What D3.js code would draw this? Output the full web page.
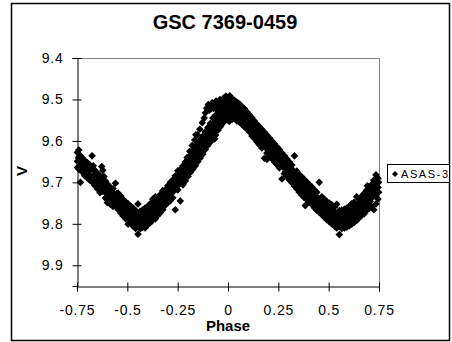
<!DOCTYPE html>
<html>
<head>
<meta charset="utf-8">
<script src="https://cdnjs.cloudflare.com/ajax/libs/d3/7.8.5/d3.min.js"></script>
<style>
	body { margin: 0; background: #fff; }
	text { font-family: Arial, 'Liberation Sans', sans-serif; fill: #000; }
</style>
</head>
<body>
<div class="chart"></div>
<script>

// ASAS-3 V magnitudes against phase
var asas3 = [
	[-0.748,9.628],[-0.748,9.649],[-0.748,9.664],
	[-0.741,9.622],[-0.741,9.641],[-0.741,9.668],
	[-0.733,9.636],[-0.733,9.659],[-0.733,9.700],
	[-0.724,9.641],[-0.724,9.662],[-0.724,9.675],
	[-0.712,9.647],[-0.712,9.671],[-0.712,9.684],
	[-0.699,9.652],[-0.699,9.666],[-0.699,9.689],
	[-0.688,9.657],[-0.688,9.672],[-0.688,9.694],
	[-0.675,9.636],[-0.675,9.668],[-0.675,9.699],
	[-0.661,9.671],[-0.661,9.694],[-0.661,9.708],
	[-0.648,9.678],[-0.648,9.699],[-0.648,9.716],
	[-0.636,9.684],[-0.636,9.708],[-0.636,9.725],
	[-0.622,9.671],[-0.622,9.694],[-0.622,9.722],
	[-0.609,9.697],[-0.609,9.713],[-0.609,9.738],
	[-0.597,9.705],[-0.597,9.728],[-0.597,9.744],
	[-0.584,9.712],[-0.584,9.731],[-0.584,9.753],
	[-0.571,9.715],[-0.571,9.739],[-0.571,9.758],
	[-0.559,9.702],[-0.559,9.735],[-0.559,9.756],
	[-0.546,9.726],[-0.546,9.751],[-0.546,9.766],
	[-0.533,9.733],[-0.533,9.757],[-0.533,9.774],
	[-0.521,9.741],[-0.521,9.762],[-0.521,9.781],
	[-0.508,9.747],[-0.508,9.770],[-0.508,9.788],
	[-0.496,9.752],[-0.496,9.776],[-0.496,9.801],
	[-0.484,9.757],[-0.484,9.780],[-0.484,9.797],
	[-0.471,9.762],[-0.471,9.786],[-0.471,9.806],
	[-0.459,9.768],[-0.459,9.791],[-0.459,9.811],
	[-0.447,9.752],[-0.447,9.793],[-0.447,9.825],
	[-0.436,9.770],[-0.436,9.792],[-0.436,9.812],
	[-0.424,9.766],[-0.424,9.786],[-0.424,9.808],
	[-0.412,9.762],[-0.412,9.789],[-0.412,9.810],
	[-0.399,9.758],[-0.399,9.781],[-0.399,9.803],
	[-0.387,9.752],[-0.387,9.776],[-0.387,9.798],
	[-0.374,9.741],[-0.374,9.769],[-0.374,9.791],
	[-0.361,9.735],[-0.361,9.764],[-0.361,9.788],
	[-0.349,9.742],[-0.349,9.757],[-0.349,9.780],
	[-0.336,9.729],[-0.336,9.750],[-0.336,9.773],
	[-0.324,9.720],[-0.324,9.741],[-0.324,9.766],
	[-0.311,9.718],[-0.311,9.733],[-0.311,9.755],
	[-0.299,9.708],[-0.299,9.727],[-0.299,9.749],
	[-0.286,9.700],[-0.286,9.719],[-0.286,9.744],
	[-0.274,9.694],[-0.274,9.716],[-0.274,9.737],
	[-0.262,9.684],[-0.262,9.709],[-0.262,9.766],
	[-0.249,9.672],[-0.249,9.697],[-0.249,9.718],
	[-0.237,9.669],[-0.237,9.690],[-0.237,9.745],
	[-0.224,9.660],[-0.224,9.684],[-0.224,9.706],
	[-0.212,9.651],[-0.212,9.678],[-0.212,9.697],
	[-0.199,9.644],[-0.199,9.663],[-0.199,9.686],
	[-0.187,9.634],[-0.187,9.657],[-0.187,9.676],
	[-0.174,9.624],[-0.174,9.649],[-0.174,9.668],
	[-0.162,9.615],[-0.162,9.637],[-0.162,9.660],
	[-0.150,9.607],[-0.150,9.631],[-0.150,9.650],
	[-0.138,9.597],[-0.138,9.622],[-0.138,9.641],
	[-0.125,9.588],[-0.125,9.608],[-0.125,9.632],
	[-0.113,9.578],[-0.113,9.602],[-0.113,9.621],
	[-0.100,9.568],[-0.100,9.593],[-0.100,9.611],
	[-0.088,9.558],[-0.088,9.580],[-0.088,9.603],
	[-0.075,9.545],[-0.075,9.574],[-0.075,9.594],
	[-0.062,9.538],[-0.062,9.561],[-0.062,9.586],
	[-0.050,9.528],[-0.050,9.552],[-0.050,9.574],
	[-0.038,9.519],[-0.038,9.545],[-0.038,9.566],
	[-0.025,9.511],[-0.025,9.534],[-0.025,9.557],
	[-0.013,9.503],[-0.013,9.527],[-0.013,9.549],
	[-0.002,9.497],[-0.002,9.519],[-0.002,9.541],
	[0.009,9.491],[0.009,9.515],[0.009,9.537],
	[0.020,9.498],[0.020,9.520],[0.020,9.548],
	[0.032,9.502],[0.032,9.524],[0.032,9.546],
	[0.044,9.506],[0.044,9.531],[0.044,9.552],
	[0.057,9.511],[0.057,9.533],[0.057,9.555],
	[0.069,9.517],[0.069,9.541],[0.069,9.560],
	[0.081,9.522],[0.081,9.546],[0.081,9.566],
	[0.094,9.530],[0.094,9.553],[0.094,9.571],
	[0.106,9.537],[0.106,9.561],[0.106,9.578],
	[0.119,9.544],[0.119,9.567],[0.119,9.588],
	[0.131,9.552],[0.131,9.575],[0.131,9.594],
	[0.143,9.559],[0.143,9.583],[0.143,9.602],
	[0.156,9.566],[0.156,9.590],[0.156,9.609],
	[0.168,9.572],[0.168,9.596],[0.168,9.617],
	[0.181,9.579],[0.181,9.602],[0.181,9.642],
	[0.193,9.586],[0.193,9.608],[0.193,9.629],
	[0.206,9.593],[0.206,9.615],[0.206,9.635],
	[0.218,9.600],[0.218,9.622],[0.218,9.643],
	[0.231,9.607],[0.231,9.630],[0.231,9.651],
	[0.243,9.614],[0.243,9.638],[0.243,9.657],
	[0.255,9.621],[0.255,9.645],[0.255,9.665],
	[0.268,9.629],[0.268,9.652],[0.268,9.692],
	[0.280,9.636],[0.280,9.660],[0.280,9.679],
	[0.292,9.643],[0.292,9.667],[0.292,9.686],
	[0.305,9.651],[0.305,9.675],[0.305,9.694],
	[0.317,9.658],[0.317,9.681],[0.317,9.701],
	[0.330,9.636],[0.330,9.689],[0.330,9.709],
	[0.342,9.673],[0.342,9.697],[0.342,9.716],
	[0.354,9.681],[0.354,9.704],[0.354,9.724],
	[0.367,9.687],[0.367,9.711],[0.367,9.731],
	[0.379,9.693],[0.379,9.716],[0.379,9.737],
	[0.392,9.699],[0.392,9.723],[0.392,9.742],
	[0.404,9.705],[0.404,9.729],[0.404,9.748],
	[0.416,9.711],[0.416,9.735],[0.416,9.753],
	[0.429,9.718],[0.429,9.741],[0.429,9.761],
	[0.441,9.724],[0.441,9.748],[0.441,9.767],
	[0.453,9.700],[0.453,9.753],[0.453,9.772],
	[0.466,9.735],[0.466,9.759],[0.466,9.778],
	[0.478,9.740],[0.478,9.764],[0.478,9.784],
	[0.491,9.746],[0.491,9.770],[0.491,9.790],
	[0.503,9.750],[0.503,9.772],[0.503,9.795],
	[0.515,9.754],[0.515,9.778],[0.515,9.800],
	[0.528,9.760],[0.528,9.783],[0.528,9.805],
	[0.540,9.753],[0.540,9.788],[0.540,9.810],
	[0.553,9.768],[0.553,9.792],[0.553,9.826],
	[0.565,9.767],[0.565,9.791],[0.565,9.812],
	[0.578,9.765],[0.578,9.787],[0.578,9.810],
	[0.590,9.762],[0.590,9.785],[0.590,9.808],
	[0.602,9.758],[0.602,9.782],[0.602,9.805],
	[0.614,9.752],[0.614,9.778],[0.614,9.801],
	[0.626,9.748],[0.626,9.773],[0.626,9.797],
	[0.639,9.735],[0.639,9.768],[0.639,9.792],
	[0.651,9.741],[0.651,9.763],[0.651,9.786],
	[0.663,9.734],[0.663,9.757],[0.663,9.780],
	[0.676,9.727],[0.676,9.750],[0.676,9.776],
	[0.688,9.719],[0.688,9.744],[0.688,9.768],
	[0.700,9.712],[0.700,9.738],[0.700,9.763],
	[0.712,9.706],[0.712,9.731],[0.712,9.758],
	[0.724,9.695],[0.724,9.724],[0.724,9.766],
	[0.735,9.682],[0.735,9.716],[0.735,9.752],
	[0.745,9.690],[0.745,9.712],[0.745,9.740],
	// points sitting between the others
	[-0.742,9.640],[-0.742,9.663],[-0.735,9.635],[-0.735,9.658],
	[-0.727,9.648],[-0.727,9.670],[-0.718,9.653],[-0.718,9.676],
	[-0.706,9.660],[-0.706,9.682],[-0.693,9.658],[-0.693,9.683],
	[-0.682,9.664],[-0.682,9.686],[-0.669,9.660],[-0.669,9.683],
	[-0.655,9.683],[-0.655,9.705],[-0.642,9.690],[-0.642,9.713],
	[-0.630,9.699],[-0.630,9.720],[-0.616,9.686],[-0.616,9.709],
	[-0.603,9.704],[-0.603,9.727],[-0.591,9.717],[-0.591,9.739],
	[-0.578,9.722],[-0.578,9.745],[-0.565,9.728],[-0.565,9.750],
	[-0.553,9.727],[-0.553,9.749],[-0.540,9.742],[-0.540,9.765],
	[-0.527,9.746],[-0.527,9.768],[-0.515,9.753],[-0.515,9.776],
	[-0.502,9.761],[-0.502,9.784],[-0.490,9.765],[-0.490,9.787],
	[-0.478,9.771],[-0.478,9.794],[-0.465,9.777],[-0.465,9.800],
	[-0.453,9.780],[-0.453,9.803],[-0.441,9.781],[-0.441,9.804],
	[-0.430,9.780],[-0.430,9.801],[-0.418,9.773],[-0.418,9.796],
	[-0.406,9.772],[-0.406,9.794],[-0.393,9.766],[-0.393,9.789],
	[-0.381,9.760],[-0.381,9.783],[-0.368,9.751],[-0.368,9.773],
	[-0.355,9.748],[-0.355,9.771],[-0.343,9.742],[-0.343,9.764],
	[-0.330,9.734],[-0.330,9.757],[-0.318,9.723],[-0.318,9.745],
	[-0.305,9.718],[-0.305,9.740],[-0.293,9.711],[-0.293,9.734],
	[-0.280,9.704],[-0.280,9.726],[-0.268,9.698],[-0.268,9.720],
	[-0.256,9.694],[-0.256,9.716],[-0.243,9.682],[-0.243,9.705],
	[-0.231,9.674],[-0.231,9.697],[-0.218,9.666],[-0.218,9.688],
	[-0.206,9.662],[-0.206,9.685],[-0.193,9.648],[-0.193,9.670],
	[-0.181,9.641],[-0.181,9.664],[-0.168,9.631],[-0.168,9.653],
	[-0.156,9.622],[-0.156,9.644],[-0.144,9.615],[-0.144,9.638],
	[-0.132,9.606],[-0.132,9.629],[-0.119,9.590],[-0.119,9.612],
	[-0.107,9.587],[-0.107,9.609],[-0.094,9.577],[-0.094,9.600],
	[-0.082,9.565],[-0.082,9.587],[-0.069,9.556],[-0.069,9.578],
	[-0.056,9.546],[-0.056,9.568],[-0.044,9.537],[-0.044,9.559],
	[-0.032,9.529],[-0.032,9.552],[-0.019,9.518],[-0.019,9.541],
	[-0.007,9.509],[-0.007,9.531],[0.004,9.506],[0.004,9.528],
	[0.015,9.505],[0.015,9.527],[0.026,9.509],[0.026,9.532],
	[0.038,9.515],[0.038,9.538],[0.050,9.522],[0.050,9.545],
	[0.063,9.524],[0.063,9.547],[0.075,9.530],[0.075,9.552],
	[0.087,9.537],[0.087,9.560],[0.100,9.544],[0.100,9.567],
	[0.112,9.552],[0.112,9.575],[0.125,9.556],[0.125,9.578],
	[0.137,9.566],[0.137,9.589],[0.149,9.574],[0.149,9.597],
	[0.162,9.581],[0.162,9.604],[0.174,9.585],[0.174,9.607],
	[0.187,9.593],[0.187,9.616],[0.199,9.599],[0.199,9.622],
	[0.212,9.606],[0.212,9.629],[0.224,9.611],[0.224,9.633],
	[0.237,9.621],[0.237,9.644],[0.249,9.629],[0.249,9.652],
	[0.261,9.636],[0.261,9.659],[0.274,9.641],[0.274,9.663],
	[0.286,9.651],[0.286,9.674],[0.298,9.658],[0.298,9.681],
	[0.311,9.666],[0.311,9.689],[0.323,9.670],[0.323,9.692],
	[0.336,9.680],[0.336,9.703],[0.348,9.688],[0.348,9.711],
	[0.360,9.695],[0.360,9.718],[0.373,9.700],[0.373,9.722],
	[0.385,9.707],[0.385,9.730],[0.398,9.714],[0.398,9.737],
	[0.410,9.720],[0.410,9.743],[0.422,9.724],[0.422,9.746],
	[0.435,9.732],[0.435,9.755],[0.447,9.739],[0.447,9.762],
	[0.459,9.744],[0.459,9.767],[0.472,9.748],[0.472,9.770],
	[0.484,9.755],[0.484,9.778],[0.497,9.761],[0.497,9.784],
	[0.509,9.763],[0.509,9.786],[0.521,9.767],[0.521,9.789],
	[0.534,9.774],[0.534,9.797],[0.546,9.779],[0.546,9.802],
	[0.559,9.780],[0.559,9.803],[0.571,9.776],[0.571,9.798],
	[0.584,9.775],[0.584,9.798],[0.596,9.772],[0.596,9.795],
	[0.608,9.768],[0.608,9.791],[0.620,9.761],[0.620,9.783],
	[0.632,9.759],[0.632,9.782],[0.645,9.753],[0.645,9.776],
	[0.657,9.748],[0.657,9.771],[0.669,9.740],[0.669,9.762],
	[0.682,9.735],[0.682,9.758],[0.694,9.729],[0.694,9.752],
	[0.706,9.723],[0.706,9.746],[0.718,9.714],[0.718,9.736],
	[0.730,9.709],[0.730,9.732],[0.741,9.702],[0.741,9.725],
	[0.748,9.700],[0.748,9.724],
	// broad shoulder left of maximum
	[-0.112,9.532],[-0.106,9.521],[-0.098,9.512],[-0.092,9.526],
	[-0.085,9.515],[-0.079,9.508],[-0.072,9.522],[-0.066,9.512],
	[-0.059,9.504],[-0.052,9.517],[-0.046,9.508],[-0.040,9.500],
	[-0.033,9.512],[-0.027,9.503],[-0.020,9.496],[-0.010,9.492],
	[-0.128,9.556],[-0.118,9.545],[-0.140,9.572],[-0.152,9.585],
	[-0.165,9.598],[-0.178,9.611],[-0.190,9.625],[-0.203,9.640],
	// stray points off the band
	[-0.627,9.662],[-0.599,9.749],[-0.235,9.671],[-0.205,9.652],
	[-0.160,9.585],[-0.066,9.595],[0.006,9.553],[0.193,9.645],
	[0.384,9.756],[0.692,9.708]
];

var xTicks = [-0.75, -0.5, -0.25, 0, 0.25, 0.5, 0.75];
var xTickLabels = ['-0.75', '-0.5', '-0.25', '0', '0.25', '0.5', '0.75'];
var yTicks = [9.4, 9.5, 9.6, 9.7, 9.8, 9.9];
var yTickLabels = ['9.4', '9.5', '9.6', '9.7', '9.8', '9.9'];
var seriesName = 'ASAS-3';

var width = 452,
	height = 342,
	plot = {left: 77, right: 379, top: 58, bottom: 286};

var svg = d3.select('.chart').append('svg')
		.attr('width', width)
		.attr('height', height);

// outer frame
svg.append('rect')
	.attr('x', 11.5)
	.attr('y', 3.5)
	.attr('width', 438)
	.attr('height', 337)
	.attr('fill', 'none')
	.attr('stroke', '#000')
	.attr('stroke-width', 1.5);

var x = d3.scaleLinear().domain([-0.75, 0.75]).range([plot.left, plot.right]);
var y = d3.scaleLinear().domain([9.4, 9.95]).range([plot.top, plot.bottom]);

// grey top and right edges of the plot area
svg.append('path')
	.attr('d', 'M' + plot.left + ',' + (plot.top + 0.5) + 'H' + (plot.right + 0.5) + 'V' + plot.bottom)
	.attr('fill', 'none')
	.attr('stroke', '#808080');

// x axis, ticks cross the line
var xAxis = svg.append('g')
	.attr('transform', 'translate(0,' + (plot.bottom + 0.5) + ')')
	.call(d3.axisBottom(x)
		.tickValues(xTicks)
		.tickFormat(function(d, i) { return xTickLabels[i]; })
		.tickSizeOuter(0)
		.tickSize(5));
xAxis.selectAll('.tick line').attr('y1', -4);
xAxis.selectAll('.tick text')
	.attr('y', 28.5)
	.attr('dy', 0)
	.style('font-size', '14px')
	.style('letter-spacing', '0.8px');

// y axis
var yAxis = svg.append('g')
	.attr('transform', 'translate(' + (plot.left + 0.5) + ',0)')
	.call(d3.axisLeft(y)
		.tickValues(yTicks)
		.tickFormat(function(d, i) { return yTickLabels[i]; })
		.tickSizeOuter(0)
		.tickSize(5));
yAxis.selectAll('.tick line').attr('x1', 4);
yAxis.selectAll('.tick text')
	.attr('x', -14)
	.style('font-size', '14px')
	.style('letter-spacing', '0.8px');
svg.selectAll('.domain').attr('stroke', '#000');

function diamond(r) {
	return 'M0,' + (-r) + 'L' + r + ',0L0,' + r + 'L' + (-r) + ',0Z';
}

// render points
svg.append('g').attr('class', 'points')
	.selectAll('path')
	.data(asas3)
	.enter().append('path')
	.attr('transform', function(d) { return 'translate(' + x(d[0]) + ',' + y(d[1]) + ')'; })
	.attr('d', diamond(3.8))
	.attr('fill', '#000');

// titles
svg.append('text')
	.attr('x', 225)
	.attr('y', 29)
	.attr('text-anchor', 'middle')
	.style('font-size', '20px')
	.style('font-weight', 'bold')
	.text('GSC 7369-0459');

svg.append('text')
	.attr('x', 228)
	.attr('y', 331)
	.attr('text-anchor', 'middle')
	.style('font-size', '15px')
	.style('font-weight', 'bold')
	.text('Phase');

svg.append('text')
	.attr('transform', 'translate(27,171) rotate(-90)')
	.attr('text-anchor', 'middle')
	.style('font-size', '15px')
	.style('font-weight', 'bold')
	.text('V');

// legend
var legend = svg.append('g').attr('class', 'legend');
legend.append('rect')
	.attr('x', 387.5)
	.attr('y', 164.5)
	.attr('width', 62)
	.attr('height', 18)
	.attr('fill', '#fff')
	.attr('stroke', '#000');
legend.append('path')
	.attr('transform', 'translate(395,174)')
	.attr('d', diamond(3))
	.attr('fill', '#000');
legend.append('text')
	.attr('x', 401)
	.attr('y', 178)
	.style('font-size', '11px')
	.style('letter-spacing', '1.6px')
	.text(seriesName);

</script>
</body>
</html>
